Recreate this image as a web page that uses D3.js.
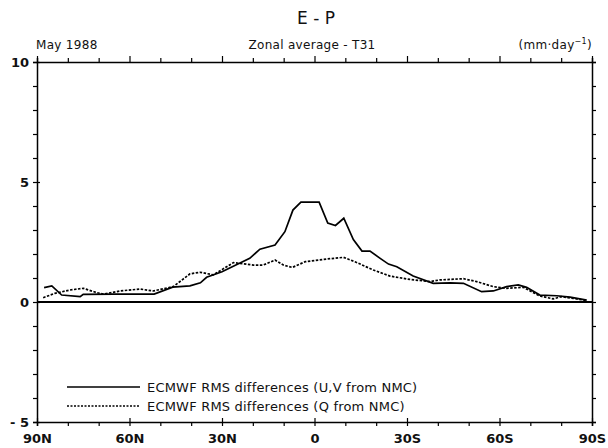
<!DOCTYPE html>
<html>
<head>
<meta charset="utf-8">
<script src="https://cdn.jsdelivr.net/npm/d3@7"></script>
<style>
  body { margin: 0; background: #fff; }
  text { font-family: "DejaVu Sans", sans-serif; fill: #111; }
</style>
</head>
<body>
<div id="chart"></div>
<script>
// latitude (deg, N positive) and E-P values
var uvLat = [87.7, 85.2, 82, 76, 75, 65, 52, 46, 40.4, 37, 35, 30, 25, 21, 17.7, 12.8, 9.6, 7, 4.4,
             -1.5, -4.3, -6.8, -9.5, -12.6, -15.4, -18, -21.3, -24, -26.7, -32, -38.5, -44, -48.3,
             -54.2, -58, -62.3, -66.1, -68.8, -73.1, -78.6, -82.9, -88.3];
var uvVal = [0.6, 0.67, 0.29, 0.22, 0.32, 0.33, 0.33, 0.62, 0.67, 0.8, 1.03, 1.26, 1.57, 1.82, 2.2, 2.37, 2.93, 3.83, 4.16,
             4.16, 3.29, 3.19, 3.49, 2.6, 2.12, 2.12, 1.82, 1.58, 1.47, 1.08, 0.78, 0.8, 0.78,
             0.43, 0.46, 0.64, 0.71, 0.61, 0.29, 0.26, 0.2, 0.08];

var qLat = [88, 84.2, 79.3, 75, 70.6, 68.5, 63, 56.6, 52.3, 45.8, 40.4, 37.1, 32.8, 26.3, 19.8, 16.6,
            12.8, 10.1, 7.2, 3, -1.5, -4, -9.4, -13.1, -19.1, -24.5, -31, -37.5, -40.7, -48.3, -52.6,
            -58, -62.3, -67.7, -73.1, -77.4, -80, -84, -88.3];
var qVal = [0.18, 0.36, 0.5, 0.57, 0.39, 0.33, 0.46, 0.54, 0.46, 0.64, 1.17, 1.24, 1.13, 1.64, 1.54, 1.54,
            1.75, 1.54, 1.44, 1.68, 1.75, 1.79, 1.86, 1.68, 1.33, 1.08, 0.94, 0.85, 0.92, 0.97, 0.85,
            0.64, 0.57, 0.61, 0.25, 0.13, 0.22, 0.15, 0.06];

var xTickLabels = ["90N", "60N", "30N", "0", "30S", "60S", "90S"];
var yTicks = [10, 5, 0, -5];
var legendLabels = ["ECMWF RMS differences (U,V from NMC)", "ECMWF RMS differences (Q from NMC)"];

var margin = {top: 62, right: 16, bottom: 26, left: 37},
    width = 608 - margin.left - margin.right,
    height = 448 - margin.top - margin.bottom;

var svg = d3.select("#chart")
  .append("svg")
    .attr("width", 608)
    .attr("height", 448);

var g = svg.append("g")
    .attr("transform", "translate(" + margin.left + "," + margin.top + ")");

var x = d3.scaleLinear().domain([90, -90]).range([0, width]);
var y = d3.scaleLinear().domain([-5, 10]).range([height, 0]);

// titles
svg.append("text").attr("x", 316).attr("y", 24).attr("text-anchor", "middle")
  .style("font-size", "17px").text("E - P");
svg.append("text").attr("x", 36).attr("y", 49).style("font-size", "12px").style("letter-spacing", "0.3px")
  .text("May 1988");
svg.append("text").attr("x", 312).attr("y", 49).attr("text-anchor", "middle")
  .style("font-size", "12px").style("letter-spacing", "0.3px").text("Zonal average  -  T31");
var unit = svg.append("text").attr("x", 592).attr("y", 49).attr("text-anchor", "end")
  .style("font-size", "12px").style("letter-spacing", "0.3px");
unit.append("tspan").text("(mm·day");
unit.append("tspan").attr("dy", -5).style("font-size", "8px").text("−1");
unit.append("tspan").attr("dy", 5).text(")");

// frame ticks
var lat10 = d3.range(90, -91, -10);
var val1 = d3.range(-5, 11, 1);

g.append("g").attr("transform", "translate(0," + height + ")")
  .call(d3.axisBottom(x).tickValues(lat10).tickSize(4)
    .tickFormat(function(d) { return d % 30 === 0 ? xTickLabels[(90 - d) / 30] : ""; }))
  .call(function(a) {
    a.selectAll("text").attr("dy", "1.1em").style("font-size", "13px").style("font-weight", "bold");
    a.selectAll(".tick line").attr("y1", function(d) { return d % 30 === 0 ? -4 : 0; });
  });
g.append("g")
  .call(d3.axisTop(x).tickValues(lat10).tickSize(4).tickFormat(""))
  .call(function(a) {
    a.selectAll(".tick line").attr("y2", function(d) { return d % 30 === 0 ? -6 : -4; });
  });
g.append("g")
  .call(d3.axisLeft(y).tickValues(val1).tickSize(4)
    .tickFormat(function(d) { return yTicks.indexOf(d) >= 0 ? (d < 0 ? "- " + (-d) : d) : ""; }))
  .call(function(a) {
    a.selectAll("text").style("font-size", "13px").style("font-weight", "bold").attr("x", -8);
    a.selectAll(".tick line").attr("x1", function(d) { return d % 5 === 0 ? 3 : 0; });
  });
g.append("g").attr("transform", "translate(" + width + ",0)")
  .call(d3.axisRight(y).tickValues(val1).tickSize(4).tickFormat(""));

g.selectAll(".domain").attr("stroke-width", 1.5);
g.selectAll(".tick line").attr("stroke-width", 1.2);

// zero line
g.append("line")
  .attr("x1", 0).attr("x2", width)
  .attr("y1", y(0)).attr("y2", y(0))
  .attr("stroke", "#000").attr("stroke-width", 2);

var line = d3.line()
  .x(function(d) { return x(d[0]); })
  .y(function(d) { return y(d[1]); });

g.append("path")
  .datum(d3.zip(uvLat, uvVal))
  .attr("fill", "none").attr("stroke", "#000").attr("stroke-width", 1.7)
  .attr("d", line);

g.append("path")
  .datum(d3.zip(qLat, qVal))
  .attr("fill", "none").attr("stroke", "#000").attr("stroke-width", 1.7)
  .attr("stroke-dasharray", "2.5,1.5")
  .attr("d", line);

// legend
var legend = svg.append("g");
legendLabels.forEach(function(t, i) {
  var ly = 387 + i * 19;
  legend.append("line")
    .attr("x1", 67).attr("x2", 140).attr("y1", ly).attr("y2", ly)
    .attr("stroke", "#000").attr("stroke-width", i === 0 ? 1.6 : 1.4)
    .attr("stroke-dasharray", i === 0 ? null : "2,1.5");
  legend.append("text").attr("x", 147).attr("y", ly + 5)
    .style("font-size", "13px").style("letter-spacing", "0.2px").text(t);
});
</script>
</body>
</html>
